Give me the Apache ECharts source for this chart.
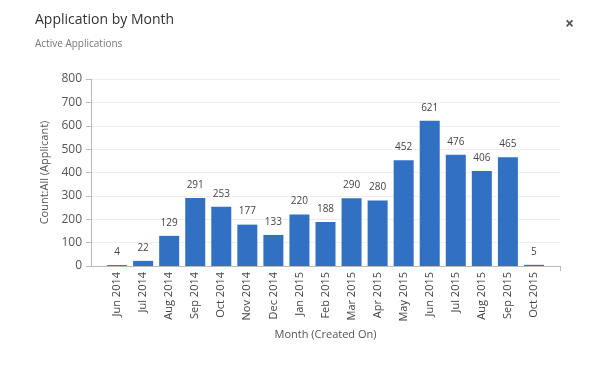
<!DOCTYPE html>
<html>
<head>
<meta charset="utf-8">
<script src="https://cdn.jsdelivr.net/npm/echarts@6/dist/echarts.min.js"></script>
<style>
html,body{margin:0;padding:0;background:#fff;}
#c{width:589px;height:365px;}
</style>
</head>
<body>
<div id="c"></div>
<script>
const months = ['Jun 2014','Jul 2014','Aug 2014','Sep 2014','Oct 2014','Nov 2014','Dec 2014','Jan 2015','Feb 2015','Mar 2015','Apr 2015','May 2015','Jun 2015','Jul 2015','Aug 2015','Sep 2015','Oct 2015'];
const counts = [4,22,129,291,253,177,133,220,188,290,280,452,621,476,406,465,5];
const yTicks = [0,100,200,300,400,500,600,700,800];

const cats = [''].concat(months, ['']);
const vals = [null].concat(counts, [null]);
const font = '"Open Sans", "Noto Sans", sans-serif';

const chart = echarts.init(document.getElementById('c'));
chart.setOption({
  animation: false,
  textStyle: {fontFamily: font},
  title: [
    {text: 'Application by Month', left: 30, top: 8, textStyle: {fontSize: 14, fontWeight: 'normal', color: '#333', fontFamily: font}},
    {text: 'Active Applications', left: 30, top: 34, textStyle: {fontSize: 10, fontWeight: 'normal', color: '#777', fontFamily: font}},
    {text: '×', left: 560, top: 11, textStyle: {fontSize: 16, fontWeight: 'bold', color: '#555', fontFamily: font}}
  ],
  grid: {left: 91, right: 29, top: 79, bottom: 99, containLabel: false},
  xAxis: {
    type: 'category',
    data: cats,
    boundaryGap: false,
    name: 'Month (Created On)',
    nameLocation: 'middle',
    nameGap: 55,
    nameTextStyle: {fontSize: 11, color: '#555', fontFamily: font},
    axisLine: {lineStyle: {color: '#bbb'}},
    axisTick: {show: true, interval: function(i){ return i === cats.length - 1; }, length: 5, lineStyle: {color: '#bbb'}},
    axisLabel: {rotate: 90, interval: 0, fontSize: 11, color: '#444', margin: 6, fontFamily: font},
    splitLine: {show: false}
  },
  yAxis: {
    type: 'value',
    min: yTicks[0],
    max: yTicks[yTicks.length - 1],
    interval: 100,
    name: 'Count:All (Applicant)',
    nameLocation: 'middle',
    nameGap: 40,
    nameTextStyle: {fontSize: 11, color: '#555', fontFamily: font},
    axisLine: {show: true, lineStyle: {color: '#bbb'}},
    axisTick: {show: true, length: 5, lineStyle: {color: '#bbb'}},
    axisLabel: {fontSize: 12, color: '#555', margin: 9, fontFamily: font},
    splitLine: {show: true, lineStyle: {color: '#eeeeee'}}
  },
  series: [{
    type: 'bar',
    data: vals,
    barWidth: 20,
    itemStyle: {color: '#3170c2'},
    label: {show: true, position: 'top', distance: 8, fontSize: 10, color: '#444', fontFamily: font}
  }]
});
</script>
</body>
</html>
